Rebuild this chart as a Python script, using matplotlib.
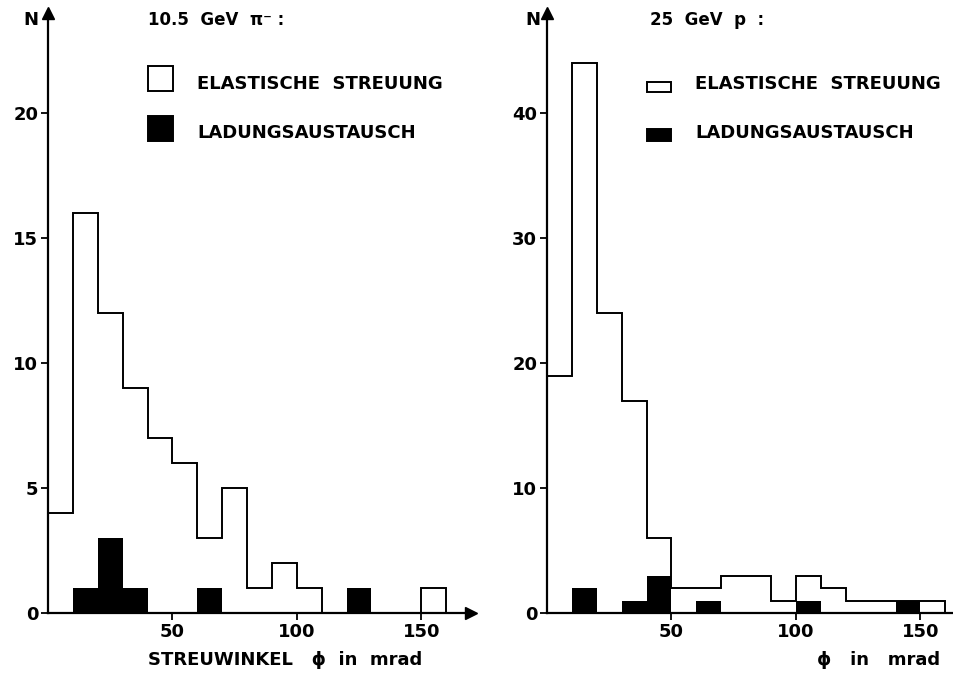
import numpy as np
import matplotlib.pyplot as plt
from matplotlib.patches import Rectangle

# bin edges in mrad (10 mrad bins)
edges = np.arange(0, 170, 10)

# 10.5 GeV pi-
pi_elastic = [4, 16, 12, 9, 7, 6, 3, 5, 1, 2, 1, 0, 0, 0, 0, 1]
pi_charge = [0, 1, 3, 1, 0, 0, 1, 0, 0, 0, 0, 0, 1, 0, 0, 0]

# 25 GeV p
p_elastic = [19, 44, 24, 17, 6, 2, 2, 3, 3, 1, 3, 2, 1, 1, 1, 1]
p_charge = [0, 2, 0, 1, 3, 0, 1, 0, 0, 0, 1, 0, 0, 0, 1, 0]

left_yticks = [0, 5, 10, 15, 20]
right_yticks = [0, 10, 20, 30, 40]
xticks = [50, 100, 150]

W, H = 954, 675
FS = 13
plt.rcParams['font.family'] = ['DejaVu Sans']
plt.rcParams['font.weight'] = 'bold'

fig = plt.figure(figsize=(W / 100, H / 100), dpi=100)


def px_axes(x0, x1, ybot, ytop):
    return fig.add_axes([x0 / W, 1 - ybot / H, (x1 - x0) / W, (ybot - ytop) / H])


def style(ax, yticks, arrow_x=True):
    for s in ['top', 'right']:
        ax.spines[s].set_visible(False)
    for s in ['left', 'bottom']:
        ax.spines[s].set_linewidth(1.6)
    ax.set_xticks(xticks)
    ax.set_yticks(yticks)
    ax.tick_params(direction='out', length=5, width=1.3, labelsize=FS, pad=2)
    ax.plot(0, 1, '^k', ms=8, transform=ax.transAxes, clip_on=False)
    if arrow_x:
        ax.plot(1, 0, '>k', ms=8, transform=ax.transAxes, clip_on=False)


# left panel
ax1 = px_axes(48, 471, 613, 13)
ax1.stairs(pi_charge, edges, fill=True, color='black')
ax1.stairs(pi_elastic, edges, color='black', lw=1.4)
ax1.set_xlim(0, 170)
ax1.set_ylim(0, 24)
style(ax1, left_yticks)

# right panel
ax2 = px_axes(547, 954, 613, 13)
ax2.stairs(p_charge, edges, fill=True, color='black')
ax2.stairs(p_elastic, edges, color='black', lw=1.4)
ax2.set_xlim(0, 163.5)
ax2.set_ylim(0, 48)
style(ax2, right_yticks, arrow_x=False)


def ftext(x, y, s, **kw):
    kw.setdefault('fontsize', FS)
    fig.text(x / W, 1 - y / H, s, va='center', **kw)


def fbox(x0, y0, x1, y1, fc):
    fig.patches.append(Rectangle((x0 / W, 1 - y1 / H), (x1 - x0) / W, (y1 - y0) / H,
                                 transform=fig.transFigure, fc=fc, ec='black', lw=1.4))


# axis labels
ftext(31, 20, 'N', ha='center')
ftext(533, 20, 'N', ha='center')
ftext(148, 20, '10.5  GeV  π⁻ :', fontsize=12)
ftext(650, 20, '25  GeV  p  :', fontsize=12)
ftext(148, 660, 'STREUWINKEL   ϕ  in  mrad')
ftext(817, 660, 'ϕ   in   mrad')

# legends
fbox(148, 66, 173, 91, 'white')
fbox(148, 116, 173, 141, 'black')
ftext(197, 84, 'ELASTISCHE  STREUUNG')
ftext(197, 133, 'LADUNGSAUSTAUSCH')

fbox(647, 82, 671, 92, 'white')
fbox(647, 129, 671, 141, 'black')
ftext(695, 84, 'ELASTISCHE  STREUUNG')
ftext(695, 133, 'LADUNGSAUSTAUSCH')

fig.savefig('out.png', dpi=100)
